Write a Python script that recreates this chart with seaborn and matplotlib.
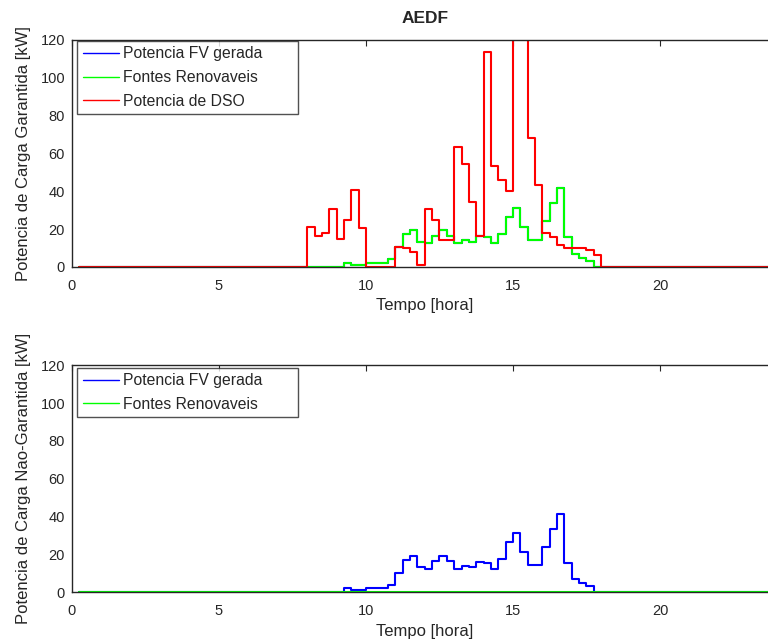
import numpy as np
import matplotlib
matplotlib.use("Agg")
import matplotlib.pyplot as plt
import seaborn as sns

# Quarter-hour samples: each value holds from its start time until the next sample.
tempo = np.arange(1, 97) * 0.25  # 0.25 ... 24.0 h

# Potencia FV gerada [kW], 0.25 h .. 24.0 h (rows of 8 samples = 2 h)
potencia_fv = [
    0, 0, 0, 0, 0, 0, 0, 0,                      # 00:15 - 02:00
    0, 0, 0, 0, 0, 0, 0, 0,                      # 02:15 - 04:00
    0, 0, 0, 0, 0, 0, 0, 0,                      # 04:15 - 06:00
    0, 0, 0, 0, 0, 0, 0, 0,                      # 06:15 - 08:00
    0, 0, 0, 0, 2.3, 1.2, 1.2, 2.3,              # 08:15 - 10:00
    2.3, 2.3, 4.2, 10.4, 17.2, 19.4, 13.3, 12.6, # 10:15 - 12:00
    16.4, 19.4, 16.4, 12.4, 14.2, 13.3, 16.3, 15.6,  # 12:15 - 14:00
    12.4, 17.5, 26.5, 31.3, 21.3, 14.3, 14.3, 24.2,  # 14:15 - 16:00
    33.6, 41.6, 15.8, 6.9, 4.8, 3.2, 0, 0,       # 16:15 - 18:00
    0, 0, 0, 0, 0, 0, 0, 0,                      # 18:15 - 20:00
    0, 0, 0, 0, 0, 0, 0, 0,                      # 20:15 - 22:00
    0, 0, 0, 0, 0, 0, 0, 0,                      # 22:15 - 24:00
]

# Fontes renovaveis [kW] for the guaranteed load (equal to the PV output)
renovaveis_garantida = potencia_fv

# Fontes renovaveis [kW] for the non-guaranteed load
renovaveis_nao_garantida = [0.0] * 96

# Potencia de DSO [kW]
potencia_dso = [
    0, 0, 0, 0, 0, 0, 0, 0,                      # 00:15 - 02:00
    0, 0, 0, 0, 0, 0, 0, 0,                      # 02:15 - 04:00
    0, 0, 0, 0, 0, 0, 0, 0,                      # 04:15 - 06:00
    0, 0, 0, 0, 0, 0, 0, 21.0,                   # 06:15 - 08:00
    16.6, 17.9, 30.6, 14.7, 24.6, 40.5, 20.5, 0, # 08:15 - 10:00
    0, 0, 0, 10.8, 9.9, 8.1, 1.0, 30.6,          # 10:15 - 12:00
    24.6, 14.0, 14.0, 63.4, 54.5, 34.3, 16.1, 113.5,  # 12:15 - 14:00
    53.3, 45.7, 40.0, 135.0, 135.0, 68.0, 43.2, 17.9, # 14:15 - 16:00
    15.8, 11.7, 9.9, 9.9, 9.9, 9.0, 6.4, 0,      # 16:15 - 18:00
    0, 0, 0, 0, 0, 0, 0, 0,                      # 18:15 - 20:00
    0, 0, 0, 0, 0, 0, 0, 0,                      # 20:15 - 22:00
    0, 0, 0, 0, 0, 0, 0, 0,                      # 22:15 - 24:00
]

x_ticks = [0, 5, 10, 15, 20]
y_ticks = [0, 20, 40, 60, 80, 100, 120]

sns.set_style("white")
plt.rcParams["font.family"] = ["Liberation Sans", "DejaVu Sans"]
ink = "#262626"
plt.rcParams.update({
    "text.color": ink,
    "axes.labelcolor": ink,
    "xtick.color": ink,
    "ytick.color": ink,
    "axes.edgecolor": ink,
})

fig = plt.figure(figsize=(7.68, 6.41), dpi=100)
ax_top = fig.add_axes([0.09375, 0.5835, 0.91875, 0.3545])
ax_bot = fig.add_axes([0.09375, 0.0757, 0.91875, 0.3545])

lw = 1.5
blue, green, red = (0, 0, 1), (0, 1, 0), (1, 0, 0)

sns.lineplot(x=tempo, y=potencia_fv, ax=ax_top, color=blue, lw=lw,
             drawstyle="steps-post", label="Potencia FV gerada")
sns.lineplot(x=tempo, y=renovaveis_garantida, ax=ax_top, color=green, lw=lw,
             drawstyle="steps-post", label="Fontes Renovaveis")
sns.lineplot(x=tempo, y=potencia_dso, ax=ax_top, color=red, lw=lw,
             drawstyle="steps-post", label="Potencia de DSO")

sns.lineplot(x=tempo, y=potencia_fv, ax=ax_bot, color=blue, lw=lw,
             drawstyle="steps-post", label="Potencia FV gerada")
sns.lineplot(x=tempo, y=renovaveis_nao_garantida, ax=ax_bot, color=green, lw=lw,
             drawstyle="steps-post", label="Fontes Renovaveis")

ylabels = ["Potencia de Carga Garantida [kW]", "Potencia de Carga Nao-Garantida [kW]"]
legend_tops = [0.995, 0.99]
for ax, ylab, ltop in zip([ax_top, ax_bot], ylabels, legend_tops):
    ax.set_xlim(0, 24)
    ax.set_ylim(0, 120)
    ax.set_xticks(x_ticks)
    ax.set_yticks(y_ticks)
    ax.tick_params(direction="in", length=4, width=0.8, top=True, right=True,
                   labelsize=10.5)
    ax.tick_params(axis="x", pad=8.5)
    ax.tick_params(axis="y", pad=5)
    for s in ax.spines.values():
        s.set_linewidth(1.0)
        s.set_color(ink)
        s.set_visible(True)
    ax.set_xlabel("Tempo [hora]", fontsize=12, labelpad=4)
    ax.set_ylabel(ylab, fontsize=12, labelpad=7)
    leg = ax.legend(loc="upper left", bbox_to_anchor=(0.0071, 0.0, 0.3132, ltop),
                    mode="expand", fontsize=11.3, frameon=True, fancybox=False,
                    handlelength=2.3, handletextpad=0.3, borderpad=0.35,
                    labelspacing=0.55, borderaxespad=0.0)
    leg.get_frame().set_edgecolor(ink)
    leg.get_frame().set_linewidth(1.0)
    for h in leg.get_lines():
        h.set_linewidth(1.0)

ax_top.set_title("AEDF", fontsize=12.5, fontweight="bold", pad=12)

fig.savefig("out.png", dpi=100)
